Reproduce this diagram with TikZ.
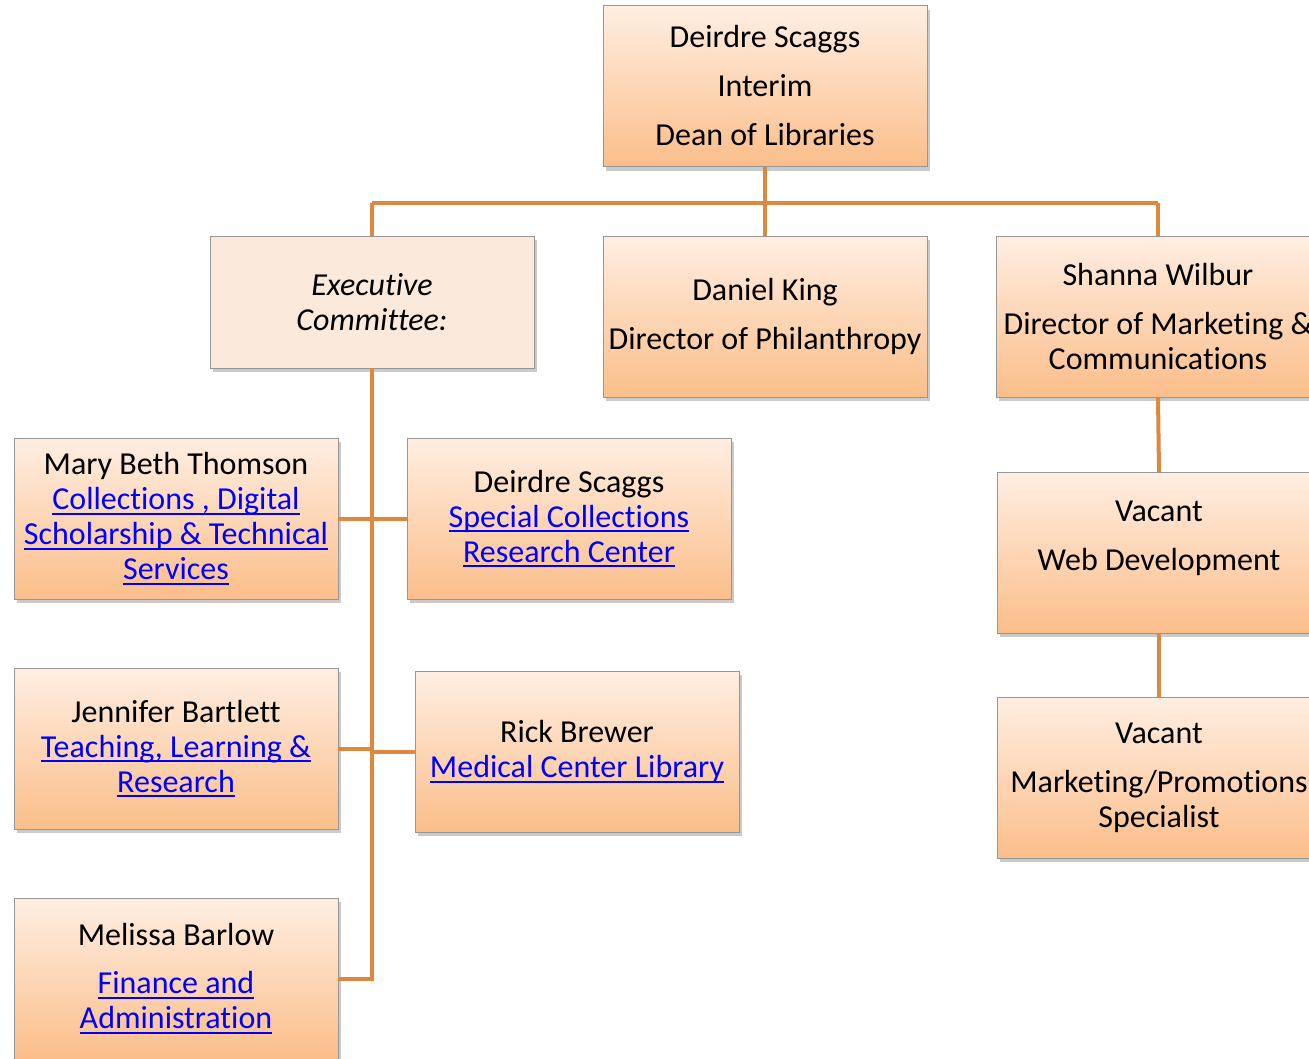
\documentclass[tikz,border=0pt]{standalone}
\usepackage{fontspec}
\setmainfont{Carlito}[Ligatures=NoCommon]
\usepackage{tikz}
\usepackage{xcolor}
\usetikzlibrary{shadows,calc}
\definecolor{boxtop}{RGB}{255,238,226}
\definecolor{boxbot}{RGB}{251,190,138}
\definecolor{boxflat}{RGB}{251,234,219}
\definecolor{boxedge}{RGB}{150,150,150}
\definecolor{orgline}{RGB}{221,135,63}
\definecolor{linkblue}{RGB}{0,0,255}
\newsavebox{\lnkbox}
\newcommand{\lnk}[1]{\sbox{\lnkbox}{#1}\textcolor{linkblue}{\rlap{\rule[-5pt]{\wd\lnkbox}{1.8pt}}#1}}

\begin{document}
\begin{tikzpicture}[x=1pt,y=-1pt,
  every node/.style={font=\fontsize{32}{35}\selectfont,align=center,inner sep=2pt},
  orgbox/.style={draw=boxedge,top color=boxtop,bottom color=boxbot,
    minimum width=324,minimum height=161,
    drop shadow={shadow xshift=3pt,shadow yshift=-4pt,opacity=0.35,fill=black!60}},
  committee/.style={orgbox,top color=boxflat,bottom color=boxflat,minimum height=132,
    font=\fontsize{32}{35}\selectfont\itshape},
  link/.style={draw=orgline,line width=4}]
\clip (0,0) rectangle (1309,1058);
% top row
\node[orgbox] (dean) at (765,86) {Deirdre Scaggs\\[14pt]Interim\\[14pt]Dean of Libraries};
\node[committee] (exec) at (372,302) {Executive\\Committee:};
\node[orgbox] (king) at (765,316.5) {Daniel King\\[14pt]Director of Philanthropy};
\node[orgbox] (wilbur) at (1158,316.5) {Shanna Wilbur\\[14pt]Director of Marketing \&\\Communications};
% executive committee
\node[orgbox] (thomson) at (176,518.5) {Mary Beth Thomson\\\lnk{Collections , Digital}\\\lnk{Scholarship \& Technical}\\\lnk{Services}};
\node[orgbox] (scaggs) at (569,518.5) {Deirdre Scaggs\\\lnk{Special Collections}\\\lnk{Research Center}};
\node[orgbox] (bartlett) at (176,748.5) {Jennifer Bartlett\\\lnk{Teaching, Learning \&}\\\lnk{Research}};
\node[orgbox] (brewer) at (577,751.5) {Rick Brewer\\\lnk{Medical Center Library}};
\node[orgbox] (barlow) at (176,978.5) {Melissa Barlow\\[13pt]\lnk{Finance and}\\\lnk{Administration}};
% marketing
\node[orgbox] (vacweb) at (1159,552.5) {Vacant\\[14pt]Web Development\\[-12pt]\strut};
\node[orgbox] (vacmkt) at (1159,777.5) {Vacant\\[14pt]Marketing/Promotions\\Specialist};
% connectors
\coordinate (bus) at ($(dean.south)+(0,36)$);
\draw[link] (dean.south) -- (bus);
\draw[link] (bus -| exec.north) -- (bus -| wilbur.north);
\draw[link] (bus -| exec.north) -- (exec.north);
\draw[link] (bus) -- (king.north);
\draw[link] (bus -| wilbur.north) -- (wilbur.north);
\draw[link] (exec.south) |- (barlow.east);
\draw[link] (thomson.east) -- (scaggs.west);
\draw[link] (bartlett.east) -- (bartlett.east -| exec.south);
\draw[link] (brewer.west -| exec.south) -- (brewer.west);
\draw[link] (wilbur.south) -- (vacweb.north);
\draw[link] (vacweb.south) -- (vacmkt.north);
\end{tikzpicture}
\end{document}
